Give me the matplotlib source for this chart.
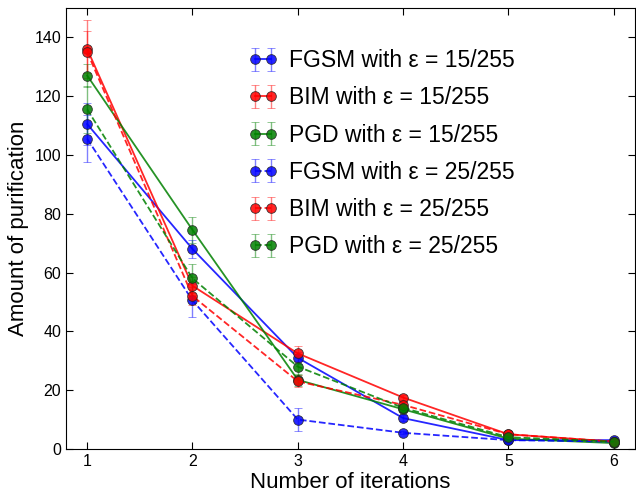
import matplotlib.pyplot as plt

plt.rcParams["font.family"] = ["Liberation Sans", "DejaVu Sans"]

iterations = [1, 2, 3, 4, 5, 6]

fgsm_15 = [110.5, 68.0, 31.0, 10.5, 3.0, 3.0]
fgsm_15_err = [7.0, 3.0, 2.0, 1.0, 0.5, 0.5]
bim_15 = [136.0, 55.5, 32.5, 17.5, 5.0, 2.5]
bim_15_err = [10.0, 3.0, 2.5, 1.0, 0.5, 0.5]
pgd_15 = [127.0, 74.5, 23.5, 13.5, 3.5, 2.0]
pgd_15_err = [4.0, 4.5, 2.0, 1.0, 0.5, 0.5]

fgsm_25 = [105.5, 50.5, 10.0, 5.5, 3.0, 2.5]
fgsm_25_err = [8.0, 5.5, 4.0, 0.5, 0.5, 0.5]
bim_25 = [135.0, 52.0, 23.0, 15.0, 5.0, 2.5]
bim_25_err = [7.0, 3.0, 2.0, 1.0, 0.5, 0.5]
pgd_25 = [115.5, 58.0, 28.0, 14.0, 4.0, 2.5]
pgd_25_err = [8.0, 5.0, 3.0, 1.0, 0.5, 0.5]

series = [
    (fgsm_15, fgsm_15_err, "blue", "-", "FGSM with ε = 15/255"),
    (bim_15, bim_15_err, "red", "-", "BIM with ε = 15/255"),
    (pgd_15, pgd_15_err, "green", "-", "PGD with ε = 15/255"),
    (fgsm_25, fgsm_25_err, "blue", "--", "FGSM with ε = 25/255"),
    (bim_25, bim_25_err, "red", "--", "BIM with ε = 25/255"),
    (pgd_25, pgd_25_err, "green", "--", "PGD with ε = 25/255"),
]

fig = plt.figure(figsize=(6.36, 4.95), dpi=100)
ax = fig.add_axes([0.104, 0.093, 0.894, 0.891])

for values, errors, color, style, label in series:
    line = ax.errorbar(
        iterations, values, yerr=errors,
        color=color, linestyle=style, linewidth=1.3,
        marker="o", markersize=7, markeredgecolor="#222222", markeredgewidth=0.6,
        ecolor=color, elinewidth=1.0, capsize=3, capthick=1.0,
        label=label,
    )
    line[0].set_alpha(0.85)
    for part in line[1]:
        part.set_alpha(0.5)
    for part in line[2]:
        part.set_alpha(0.5)

ax.set_xlim(0.8, 6.2)
ax.set_ylim(0, 150)
ax.set_xticks(iterations)
ax.set_yticks(range(0, 141, 20))
ax.tick_params(direction="in", top=True, right=True, labelsize=11.5, length=5)
ax.set_xlabel("Number of iterations", fontsize=16, labelpad=2)
ax.set_ylabel("Amount of purification", fontsize=16, labelpad=4)

ax.legend(loc="upper left", bbox_to_anchor=(0.283, 0.953), frameon=False,
          numpoints=2, fontsize=16.5, labelspacing=0.62, handlelength=1.3,
          handletextpad=0.5)

fig.savefig("out.png", dpi=100)
